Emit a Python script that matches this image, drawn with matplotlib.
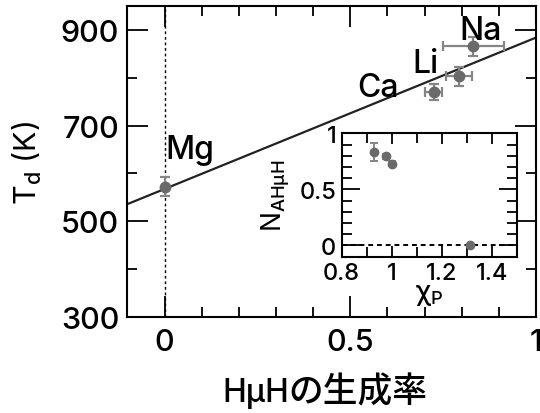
import matplotlib
matplotlib.use("Agg")
import matplotlib.pyplot as plt
from matplotlib.ticker import MultipleLocator

plt.rcParams['font.family'] = ['Inter', 'Noto Sans CJK JP', 'DejaVu Sans']
plt.rcParams['font.weight'] = 'medium'
plt.rcParams['mathtext.fontset'] = 'custom'
plt.rcParams['mathtext.rm'] = 'Inter:medium'
plt.rcParams['mathtext.it'] = 'Inter:italic'

# ---- main data ----
elements = ["Mg", "Ca", "Li", "Na"]
hmuh_rate = [0.0, 0.724, 0.793, 0.831]
hmuh_xerr = [0.0, 0.022, 0.036, 0.082]
td_K = [572, 770, 803, 866]
td_err = [20, 17, 20, 20]
label_x = [0.003, 0.519, 0.667, 0.793]
label_y = [632, 762, 812, 881]

fit_x = [-0.1, 1.0]
fit_T = [536, 884]

xlabel_latin = "HμH"
xlabel_cjk = "の生成率"

# ---- inset data ----
chi_p = [0.929, 0.977, 1.0, 1.313]
n_ahmuh = [0.834, 0.795, 0.73, 0.0]
n_err = [0.082, 0.02, 0.02, 0.0]

grey = '#6a6a6a'
egrey = '#858585'

fig = plt.figure(figsize=(5.4, 4.14), dpi=100)
ax = fig.add_axes([0.2361, 0.2319, 0.7565, 0.7512])

ax.axvline(0, color='black', lw=1.0, ls=(0, (2, 2)), zorder=1)
ax.plot(fit_x, fit_T, color='#222222', lw=1.6, zorder=2)
ax.errorbar(hmuh_rate, td_K, xerr=hmuh_xerr, yerr=td_err, fmt='o', ms=7.5,
            color=grey, ecolor=egrey, elinewidth=1.6, capsize=3.5, capthick=1.6,
            zorder=3)
for name, lx, ly in zip(elements, label_x, label_y):
    ax.text(lx, ly, name, fontsize=23, ha='left', va='baseline', zorder=4)

ax.set_xlim(-0.1, 1.0)
ax.set_ylim(300, 950)
ax.xaxis.set_minor_locator(MultipleLocator(0.1))
ax.yaxis.set_minor_locator(MultipleLocator(100))
ax.set_xticks([0, 0.5, 1.0])
ax.set_xticklabels(['0', '0.5', '1'])
ax.set_yticks([300, 500, 700, 900])
ax.tick_params(which='both', direction='in', top=True, right=True, width=1.3)
ax.tick_params(which='major', length=15, labelsize=22, pad=8)
ax.tick_params(which='minor', length=7.5)
ax.tick_params(axis='y', which='major', pad=6)
for s in ax.spines.values():
    s.set_linewidth(1.5)
ax.set_ylabel('T$_\\mathrm{d}$ (K)', fontsize=22, labelpad=12)

# x label: latin part and Japanese part
fig.text(0.4124, 0.0283, xlabel_latin, fontsize=23, ha='left', va='baseline')
fig.text(0.5333, 0.0283, xlabel_cjk, fontsize=25, ha='left', va='baseline',
         family=['Noto Sans CJK JP', 'DejaVu Sans'])

# ---- inset ----
ins = fig.add_axes([0.6328, 0.3775, 0.3241, 0.2981])
ins.axhline(0, color='black', lw=1.4, ls=(0, (2.5, 2)), zorder=1)
ins.errorbar(chi_p, n_ahmuh, yerr=n_err, fmt='o', ms=6, color=grey,
             ecolor=egrey, elinewidth=1.4, capsize=3, capthick=1.4, zorder=3)
ins.set_xlim(0.8, 1.5)
ins.set_ylim(-0.1, 1.0)
ins.set_xticks([0.8, 1.0, 1.2, 1.4])
ins.set_xticklabels(['0.8', '1', '1.2', '1.4'])
ins.xaxis.set_minor_locator(MultipleLocator(0.1))
ins.set_yticks([0, 0.5, 1.0])
ins.set_yticklabels(['0', '0.5', '1'])
ins.yaxis.set_minor_locator(MultipleLocator(0.1))
ins.tick_params(which='both', direction='in', top=True, right=True, width=1.3)
ins.tick_params(which='major', labelsize=17, pad=4)
ins.tick_params(axis='x', which='major', length=8)
ins.tick_params(axis='y', which='major', length=13)
ins.tick_params(which='minor', length=7)
for s in ins.spines.values():
    s.set_linewidth(1.5)
ins.set_xlabel('$\\mathrm{χ}_{\\mathrm{P}}$', fontsize=19, labelpad=-2)
ins.set_ylabel('N$_{\\mathrm{AHμH}}$', fontsize=19, labelpad=5)

fig.savefig('out.png', dpi=100)
